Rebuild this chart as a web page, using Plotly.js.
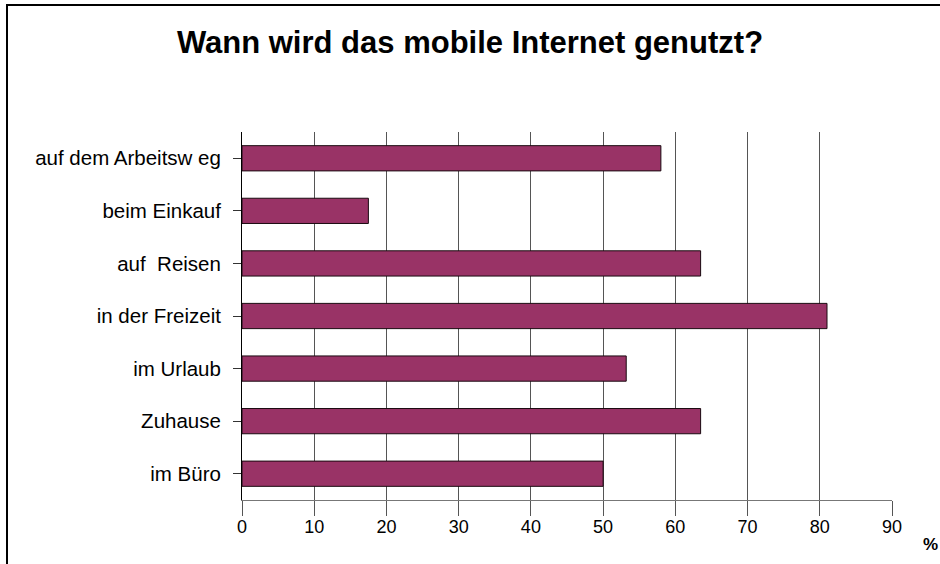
<!DOCTYPE html>
<html>
<head>
<meta charset="utf-8">
<script src="https://cdn.plot.ly/plotly-3.0.1.min.js"></script>
<style>html,body{margin:0;padding:0;background:#fff;}#chart{width:940px;height:564px;}</style>
</head>
<body>
<div id="chart"></div>
<script>
const categories = ["auf dem Arbeitsw eg", "beim Einkauf", "auf  Reisen", "in der Freizeit", "im Urlaub", "Zuhause", "im Büro"];
const values = [58, 17.5, 63.5, 81, 53.2, 63.5, 50];
const xTicks = [0, 10, 20, 30, 40, 50, 60, 70, 80, 90];
const titleText = "Wann wird das mobile Internet genutzt?";
const unitLabel = "%";

const W = 940, H = 564;
const m = {l: 242, r: 48, t: 132, b: 64};
const pw = W - m.l - m.r, ph = H - m.t - m.b;
const px = x => (x - m.l) / pw;
const py = y => (H - m.b - y) / ph;

const font = "'Liberation Sans', Arial, sans-serif";

Plotly.newPlot('chart', [{
  type: 'bar',
  orientation: 'h',
  y: categories,
  x: values,
  marker: {color: '#993366', line: {color: '#1a0a10', width: 1}},
  hoverinfo: 'x+y'
}], {
  width: W, height: H,
  margin: m,
  paper_bgcolor: '#fff', plot_bgcolor: '#fff',
  showlegend: false,
  bargap: 0.52,
  title: {text: '<b>' + titleText + '</b>', font: {family: font, size: 31, color: '#000'}, x: 0.5, xanchor: 'center', y: 1 - 42 / H, yanchor: 'middle'},
  xaxis: {
    range: [0, 90], tickvals: xTicks, ticktext: xTicks.map(String),
    showgrid: true, gridcolor: '#555', gridwidth: 1,
    zeroline: false, showline: true, linecolor: '#777', linewidth: 1,
    ticks: 'outside', ticklen: 15, tickcolor: '#555', tickwidth: 1,
    ticklabelstandoff: -5,
    tickfont: {family: font, size: 18, color: '#000'}, fixedrange: true
  },
  yaxis: {
    type: 'category', autorange: 'reversed',
    showgrid: false, zeroline: false, showline: true, linecolor: '#000', linewidth: 1,
    ticks: 'outside', ticklen: 8, tickcolor: '#333', tickwidth: 1,
    ticklabelstandoff: 8,
    tickfont: {family: font, size: 20.5, color: '#000'}, fixedrange: true
  },
  annotations: [{
    text: '<b>' + unitLabel + '</b>', xref: 'paper', yref: 'paper',
    x: px(930), y: py(544), xanchor: 'center', yanchor: 'middle',
    showarrow: false, font: {family: font, size: 17, color: '#000'}
  }],
  shapes: [{
    type: 'path', xref: 'paper', yref: 'paper',
    path: 'M ' + px(960) + ',' + py(5) + ' L ' + px(7) + ',' + py(5) + ' L ' + px(7) + ',' + py(580),
    line: {color: '#000', width: 2}
  }]
}, {displayModeBar: false, staticPlot: true});
</script>
</body>
</html>
